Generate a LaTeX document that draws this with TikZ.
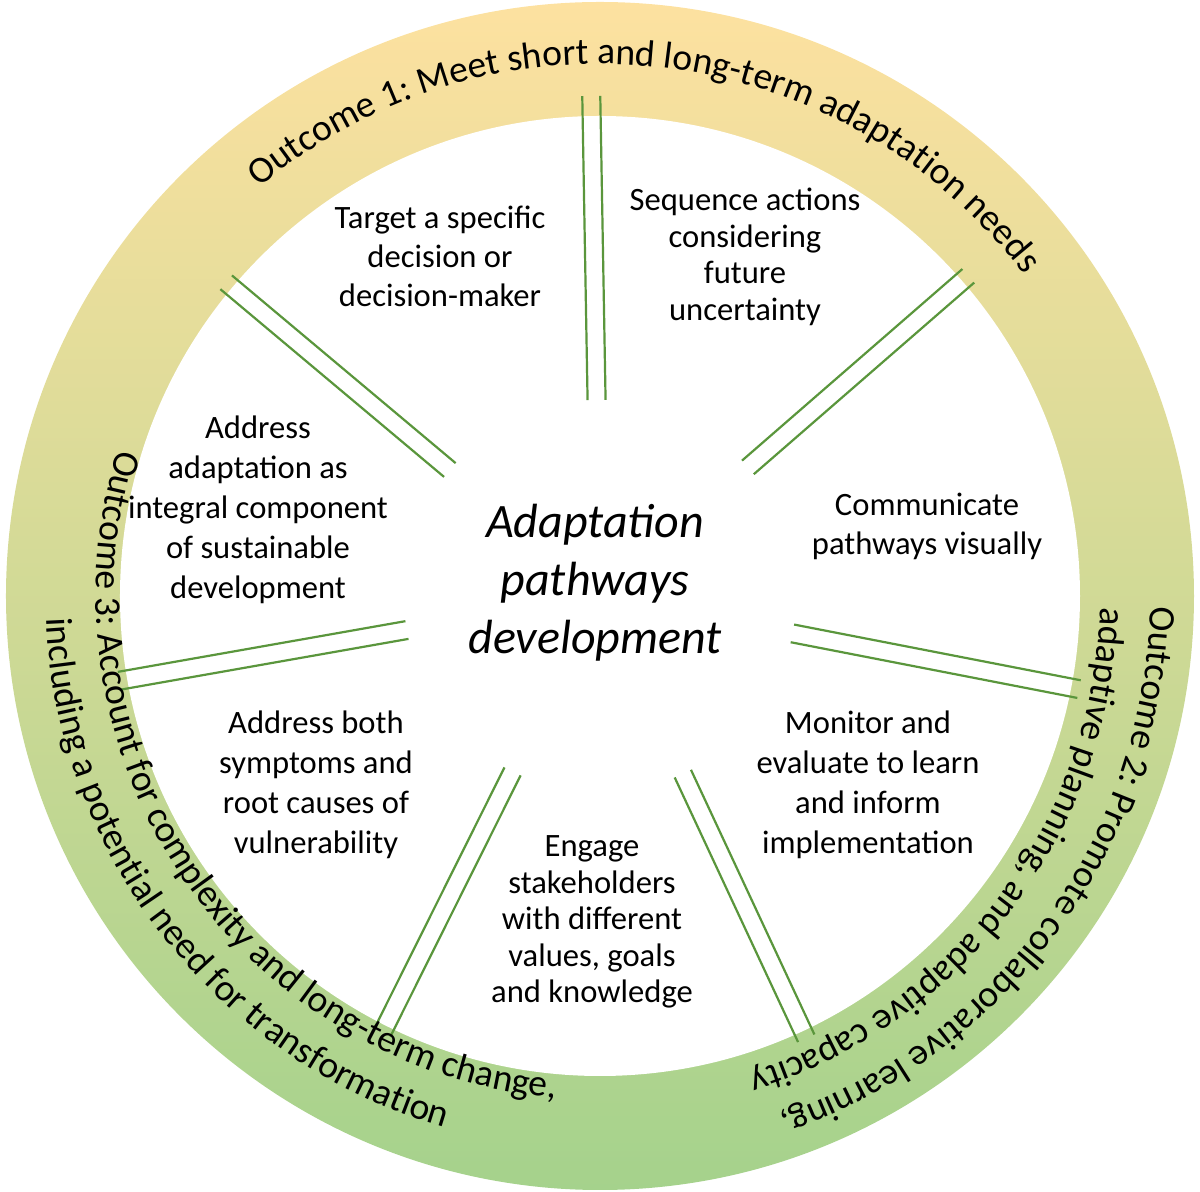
\documentclass[tikz,border=0pt]{standalone}
\usepackage{fontspec}
\setmainfont{Carlito}
\usetikzlibrary{decorations.text}
\newcommand\ringfont{\fontsize{18.8}{22}\selectfont}
\tikzset{
  spk/.style={draw={rgb,255:red,90;green,150;blue,60}, line width=1.1pt},
  lbl/.style={align=center, font=\fontsize{16.3}{19.5}\selectfont},
  lblb/.style={align=center, font=\fontsize{16.3}{20}\selectfont},
  ringtext/.style={decorate, decoration={text along path, text align=center, text={#1}}}
}
\begin{document}
\begin{tikzpicture}[x=0.5pt,y=0.5pt]
\useasboundingbox (-600,-596) rectangle (600,596);
\shade[top color={rgb,255:red,253;green,225;blue,160}, middle color={rgb,255:red,236;green,238;blue,192}, bottom color={rgb,255:red,165;green,210;blue,140}] (0,0) circle (297pt);
\fill[white] (0,0) circle (240pt);
\foreach \a/\r/\n in {91/250/s1,41/244/s2,-11/244/s3,-65/244/s4,-116.5/244/s5,190/244/s6,140/244/s7}{
  \coordinate (\n i) at (\a:98pt);
  \coordinate (\n o) at (\a:\r pt);
  \draw[spk] ([shift={(\a+90:4.5pt)}]\n i) -- ([shift={(\a+90:4.5pt)}]\n o);
  \draw[spk] ([shift={(\a-90:4.5pt)}]\n i) -- ([shift={(\a-90:4.5pt)}]\n o);
}
% ring texts
\path[ringtext={|\ringfont|Outcome 1: Meet short and long-term adaptation needs}] (180:266pt) arc[start angle=180, end angle=-13, radius=266pt];
\path[ringtext={|\ringfont|Outcome 2: Promote collaborative learning,}] (60:275pt) arc[start angle=60, end angle=-132, radius=275pt];
\path[ringtext={|\ringfont|adaptive planning, and adaptive capacity}] (59:250pt) arc[start angle=59, end angle=-133, radius=250pt];
\path[ringtext={|\ringfont|Outcome 3: Account for complexity and long-term change,}] (116:252pt) arc[start angle=116, end angle=312, radius=252pt];
\path[ringtext={|\ringfont|including a potential need for transformation}] (120:277pt) arc[start angle=120, end angle=316, radius=277pt];
% labels
\node[align=center, font=\fontsize{24}{29}\selectfont\itshape] (c) at (-5,13) {Adaptation\\pathways\\development};
\node[lbl] (t1) at (-160,340) {Target a specific\\decision or\\decision-maker};
\node[lbl, font=\fontsize{16.3}{18.3}\selectfont] (t2) at (145,339) {Sequence actions\\considering\\future\\uncertainty};
\node[lbl] (t3) at (327,70) {Communicate\\pathways visually};
\node[lblb] (t4) at (268,-189) {Monitor and\\evaluate to learn\\and inform\\implementation};
\node[lbl, font=\fontsize{16.3}{18.3}\selectfont] (t5) at (-8,-326) {Engage\\stakeholders\\with different\\values, goals\\and knowledge};
\node[lblb] (t6) at (-284,-189) {Address both\\symptoms and\\root causes of\\vulnerability};
\node[lblb] (t7) at (-342,86) {Address\\adaptation as\\integral component\\of sustainable\\development};
\end{tikzpicture}
\end{document}
